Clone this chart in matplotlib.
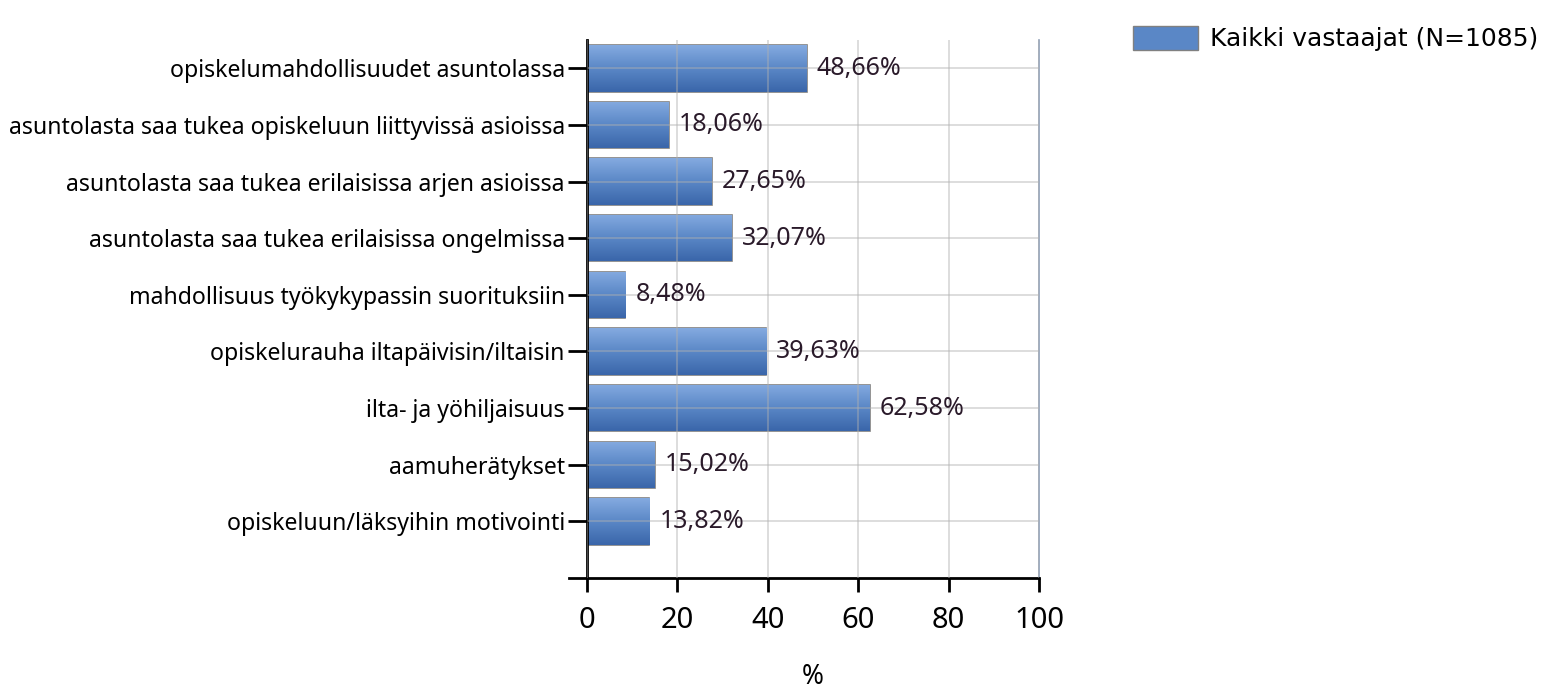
import matplotlib.pyplot as plt
import numpy as np
from matplotlib.patches import Patch
from matplotlib.colors import LinearSegmentedColormap

# Kategoriat ja arvot
kategoriat = [
    'opiskelumahdollisuudet asuntolassa',
    'asuntolasta saa tukea opiskeluun liittyvissä asioissa',
    'asuntolasta saa tukea erilaisissa arjen asioissa',
    'asuntolasta saa tukea erilaisissa ongelmissa',
    'mahdollisuus työkykypassin suorituksiin',
    'opiskelurauha iltapäivisin/iltaisin',
    'ilta- ja yöhiljaisuus',
    'aamuherätykset',
    'opiskeluun/läksyihin motivointi',
]
arvot = [48.66, 18.06, 27.65, 32.07, 8.48, 39.63, 62.58, 15.02, 13.82]
sarja = 'Kaikki vastaajat (N=1085)'
x_tikit = [0, 20, 40, 60, 80, 100]

fontti = ['Noto Sans', 'DejaVu Sans']

fig = plt.figure(figsize=(15.46, 6.96), dpi=100)
ax = fig.add_axes([0.3797, 0.1695, 0.2924, 0.773])

y = np.arange(len(kategoriat))
palkit = ax.barh(y, arvot, height=0.82, color='#5a87c6', edgecolor='#808080',
                 linewidth=1.2, zorder=2)

# liukuväri palkkeihin
liuku = np.linspace(0, 1, 64).reshape(-1, 1)
cmap = LinearSegmentedColormap.from_list('sin', ['#84aae0', '#5a87c6', '#3a66aa'])
for p in palkit:
    x0, y0, w, h = p.get_x(), p.get_y(), p.get_width(), p.get_height()
    im = ax.imshow(liuku, extent=(x0, x0 + w, y0 + h, y0), aspect='auto',
                   cmap=cmap, zorder=2.5)
    im.set_clip_path(p)

for yi, v in zip(y, arvot):
    ax.text(v + 2.2, yi, f'{v:.2f}%'.replace('.', ','), va='center', ha='left',
            fontsize=18, family=fontti, color='#2a1a2a', zorder=4)

ax.set_xlim(0, 100)
ax.set_ylim(9.0, -0.5)
ax.set_xticks(x_tikit)
ax.set_xticklabels([str(t) for t in x_tikit], fontsize=21, family=fontti)
ax.set_yticks(y)
ax.set_yticklabels(kategoriat, fontsize=16.6, family=fontti)
ax.set_xlabel('%', fontsize=19, family=fontti, labelpad=20)

ax.grid(True, color='#b0b0b0', alpha=0.5, linewidth=1.2, zorder=5)
ax.set_axisbelow(False)

ax.tick_params(axis='y', length=14, width=2, color='black', pad=2)
ax.tick_params(axis='x', length=10, width=2, color='black', pad=10)

ax.spines['top'].set_visible(False)
ax.spines['right'].set_color('#8fa0b8')
ax.spines['right'].set_linewidth(1.2)
ax.spines['left'].set_linewidth(2)
ax.spines['bottom'].set_linewidth(2)
ax.spines['bottom'].set_bounds(-4, 100)

fig.legend(handles=[Patch(facecolor='#5a87c6', edgecolor='#808080', label=sarja)],
           loc='upper left', bbox_to_anchor=(0.718, 0.995), frameon=False,
           handlelength=2.6, handleheight=1.1, handletextpad=0.5,
           prop={'family': 'DejaVu Sans', 'size': 18})

plt.savefig('out.png', dpi=100)
